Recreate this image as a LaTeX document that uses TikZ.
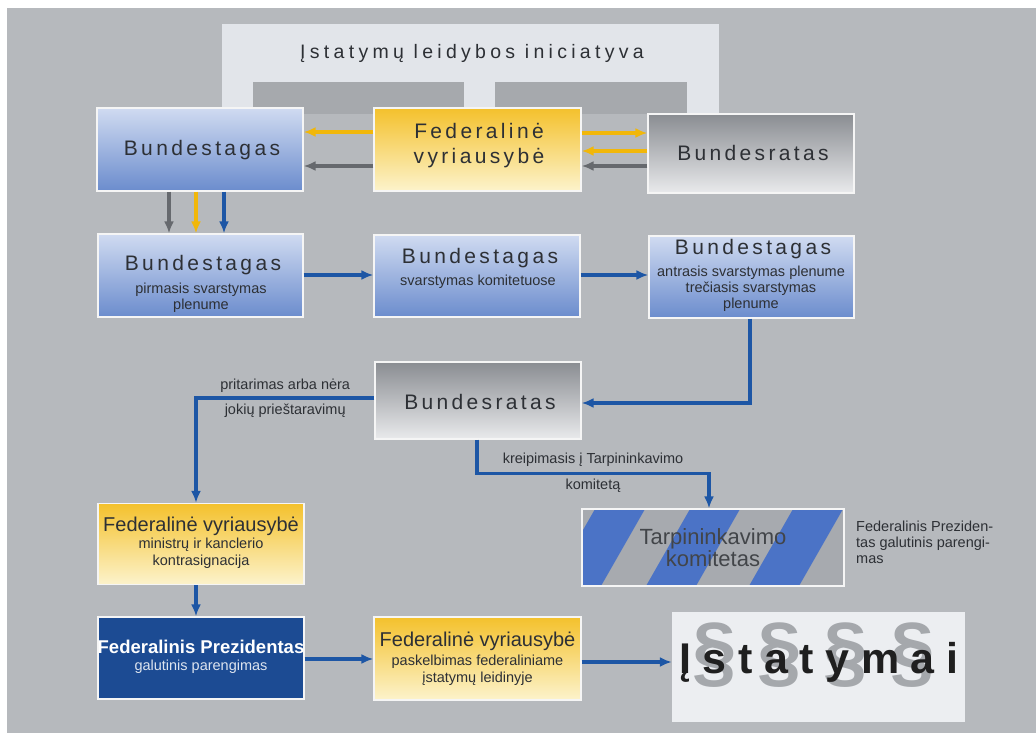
\documentclass[tikz,border=0pt]{standalone}
\usepackage{fontspec}
\setmainfont{Liberation Sans}
\newfontfamily\trackfont{Liberation Sans}[LetterSpace=16]
\newfontfamily\titlefont{Liberation Sans}[LetterSpace=22]
\newfontfamily\lawfont{Liberation Sans}[LetterSpace=27]
\usetikzlibrary{arrows.meta}

\definecolor{bg}{HTML}{B6B9BD}
\definecolor{framelight}{HTML}{E2E5EA}
\definecolor{framedark}{HTML}{A6A9AD}
\definecolor{bundTop}{HTML}{D0DBF1}
\definecolor{bundBot}{HTML}{6B8CCD}
\definecolor{fedTop}{HTML}{F4C12C}
\definecolor{fedBot}{HTML}{FCF3CC}
\definecolor{ratTop}{HTML}{8A8D92}
\definecolor{ratBot}{HTML}{E9EAEC}
\definecolor{prez}{HTML}{1C4B93}
\definecolor{arrblue}{HTML}{1D56A5}
\definecolor{arryellow}{HTML}{F1B70A}
\definecolor{arrgray}{HTML}{66696E}
\definecolor{ink}{HTML}{2D3035}
\definecolor{stripeblue}{HTML}{4B73C6}
\definecolor{stripegray}{HTML}{A7AAAF}
\definecolor{lawbg}{HTML}{ECEEF1}
\definecolor{paragray}{HTML}{A5A8AC}

\tikzset{
  box/.style={draw=white!92!gray, line width=1.2pt, minimum width=206pt, minimum height=82pt, inner sep=0pt},
  bundbox/.style={box, top color=bundTop, bottom color=bundBot},
  fedbox/.style={box, top color=fedTop, bottom color=fedBot},
  ratbox/.style={box, top color=ratTop, bottom color=ratBot},
  head/.style={text=ink, font=\trackfont\fontsize{21}{25}\selectfont, inner sep=0pt, align=center},
  fedhead/.style={text=ink, font=\fontsize{20}{24}\selectfont, inner sep=0pt},
  sub/.style={text=ink, font=\fontsize{14.5}{16}\selectfont, inner sep=0pt, align=center},
  lbl/.style={text=ink, font=\fontsize{14.5}{16}\selectfont, inner sep=0pt},
  conn/.style={line width=3.2pt, draw=arrblue, -{Latex[length=12pt,width=10pt]}},
  yconn/.style={conn, draw=arryellow},
  gconn/.style={conn, draw=arrgray},
  para/.style={text=paragray, font=\bfseries\fontsize{80}{80}\selectfont, inner sep=0pt}
}

\begin{document}
\begin{tikzpicture}[x=1pt,y=-1pt]
  \useasboundingbox (0,0) rectangle (1036,733);
  \fill[white] (0,0) rectangle (1036,733);
  \fill[bg] (7,8) rectangle (1036,733);

  \fill[framelight] (222,24) rectangle (719,114);
  \fill[framedark] (253,82) rectangle (464,114);
  \fill[framedark] (495,82) rectangle (687,114);
  \node[text=ink, font=\titlefont\fontsize{19.5}{22}\selectfont, inner sep=0pt] (init) at (472,53) {Įstatymų leidybos iniciatyva};

  \node[bundbox, minimum height=83pt] (bt0) at (200,149.5) {};
  \node[fedbox, minimum width=207pt, minimum height=83pt] (fv0) at (477.5,149.5) {};
  \node[ratbox, minimum height=79pt] (br0) at (751,153.5) {};
  \node[head] (bt0t) at (202,150) {Bundestagas};
  \node[head] (fv0t) at (479,146) {Federalinė\\vyriausybė};
  \node[head] (br0t) at (753,153) {Bundesratas};

  \node[bundbox, minimum width=205pt, minimum height=83pt] (bt1) at (200.5,275.5) {};
  \node[bundbox] (bt2) at (477,276) {};
  \node[bundbox, minimum width=205pt] (bt3) at (751.5,277) {};
  \node[head] (bt1t) at (203,265) {Bundestagas};
  \node[sub] (bt1s) at (201,298) {pirmasis svarstymas\\plenume};
  \node[head] (bt2t) at (480,258) {Bundestagas};
  \node[sub] (bt2s) at (478,282) {svarstymas komitetuose};
  \node[head] (bt3t) at (753,249) {Bundestagas};
  \node[sub] (bt3s) at (751,289) {antrasis svarstymas plenume\\trečiasis svarstymas\\plenume};

  \node[ratbox, minimum height=77pt] (br1) at (478,400.5) {};
  \node[head] (br1t) at (480,402) {Bundesratas};

  \node[fedbox, minimum height=81pt] (fv1) at (201,544) {};
  \node[fedhead] (fv1t) at (201,526) {Federalinė vyriausybė};
  \node[sub, font=\fontsize{14.5}{17}\selectfont] (fv1s) at (201,553.5) {ministrų ir kanclerio\\kontrasignacija};

  \node[box, fill=prez] (fp) at (201,658) {};
  \node[text=white, font=\bfseries\fontsize{18.5}{22}\selectfont, inner sep=0pt] (fpt) at (201,647) {Federalinis Prezidentas};
  \node[sub, text=white!85!prez] (fps) at (201,667) {galutinis parengimas};

  \node[fedbox, minimum width=207pt, minimum height=83pt] (fv2) at (477.5,658.5) {};
  \node[fedhead] (fv2t) at (477.5,641) {Federalinė vyriausybė};
  \node[sub, font=\fontsize{14.5}{17}\selectfont] (fv2s) at (477.5,670.5) {paskelbimas federaliniame\\įstatymų leidinyje};

  \node[box, fill=stripegray, minimum width=262pt, minimum height=77pt, text=ink!90!white,
        font=\fontsize{22}{22}\selectfont, align=center,
        path picture={
          \foreach \s in {13,108,211}
            \fill[stripeblue] ([xshift=\s pt]path picture bounding box.north west)
              -- ++(50pt,0pt) -- ++(-44pt,-77pt) -- ++(-50pt,0pt) -- cycle;
        }] (tk) at (713,547.5) {Tarpininkavimo\\komitetas};
  \node[sub, align=left, anchor=west] (tknote) at (856,542) {Federalinis Preziden-\\tas galutinis parengi-\\mas};

  \node[fill=lawbg, minimum width=293pt, minimum height=110pt, inner sep=0pt] (law) at (818.5,667) {};
  \node[para] (p1) at (715,655) {§};
  \node[para] (p2) at (780,655) {§};
  \node[para] (p3) at (846,655) {§};
  \node[para] (p4) at (913,655) {§};
  \node[text=black!88, font=\lawfont\bfseries\fontsize{43}{48}\selectfont, inner sep=0pt, anchor=base west] (lawt) at (679,673) {Įstatymai};

  \draw[yconn] (fv0.west |- 0,132) -- (bt0.east |- 0,132);
  \draw[gconn] (fv0.west |- 0,166) -- (bt0.east |- 0,166);
  \draw[yconn] (fv0.east |- 0,133) -- (br0.west |- 0,133);
  \draw[yconn] (br0.west |- 0,151) -- (fv0.east |- 0,151);
  \draw[gconn] (br0.west |- 0,166) -- (fv0.east |- 0,166);
  \draw[gconn] (bt0.south -| 169,0) -- (bt1.north -| 169,0);
  \draw[yconn] (bt0.south -| 196,0) -- (bt1.north -| 196,0);
  \draw[conn] (bt0.south -| 224,0) -- (bt1.north -| 224,0);

  \draw[conn] (bt1.east |- 0,275) -- (bt2.west |- 0,275);
  \draw[conn] (bt2.east |- 0,275) -- (bt3.west |- 0,275);
  \draw[conn] (bt3.south -| 750,0) |- (br1.east |- 0,403);
  \draw[conn] (br1.west |- 0,398) -| node[pos=0.25, above=4pt, lbl] {pritarimas arba nėra}
    node[pos=0.25, below=4pt, lbl] {jokių prieštaravimų} (fv1.north -| 196,0);
  \draw[conn] (br1.south -| 477,0) -- ++(0,34) -| node[pos=0.25, above=5pt, lbl] {kreipimasis į Tarpininkavimo}
    node[pos=0.25, below=4pt, lbl] {komitetą} (tk.north -| 709,0);
  \draw[conn] (fv1.south -| 196,0) -- (fp.north -| 196,0);
  \draw[conn] (fp.east |- 0,659) -- (fv2.west |- 0,659);
  \draw[conn] (fv2.east |- 0,662) -- (law.west |- 0,662);
\end{tikzpicture}
\end{document}
